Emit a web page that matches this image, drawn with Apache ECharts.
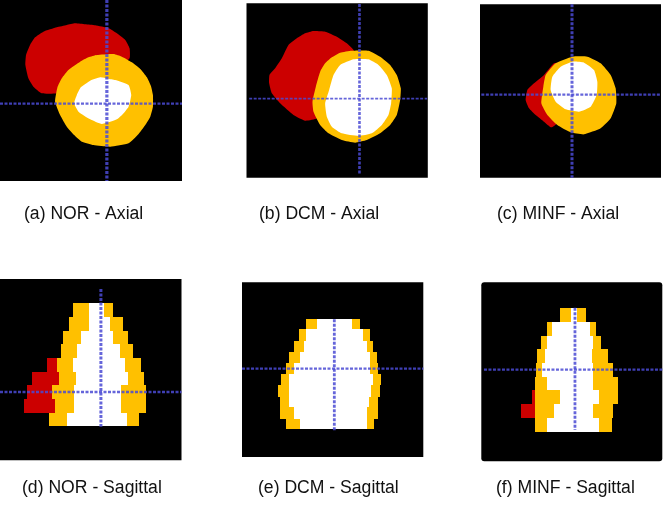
<!DOCTYPE html>
<html>
<head>
<meta charset="utf-8">
<style>html,body{margin:0;padding:0;background:#fff}#main{width:664px;height:505px}</style>
<script src="https://cdn.jsdelivr.net/npm/echarts@6/dist/echarts.min.js"></script>
</head>
<body>
<div id="main"></div>
<script>
const captions = ["(a) NOR - Axial", "(b) DCM - Axial", "(c) MINF - Axial", "(d) NOR - Sagittal", "(e) DCM - Sagittal", "(f) MINF - Sagittal"];

// axial contours
const redA = [[225,70],[255,73],[285,76],[325,85],[350,100],[375,120],[388,145],[388,175],[340,220],[250,250],[170,280],[125,280],[100,260],[85,235],[76,195],[78,165],[90,135],[105,112],[130,95],[170,82],[200,75]];
const yellowA = [[290,165],[340,162],[365,170],[395,187],[420,207],[440,232],[452,258],[458,285],[458,320],[450,350],[435,375],[415,402],[385,430],[330,440],[280,435],[245,425],[222,405],[200,380],[180,345],[165,305],[172,262],[185,235],[205,210],[240,185],[265,172]];
const whiteA = [[300,232],[322,236],[345,240],[385,255],[393,285],[385,320],[368,342],[350,358],[305,372],[270,358],[235,335],[222,310],[230,285],[242,262],[270,242]];

const redB = [[265,93],[300,95],[335,110],[365,130],[385,150],[400,200],[330,260],[275,355],[240,362],[205,345],[165,310],[140,280],[132,250],[133,225],[150,205],[170,175],[190,135],[215,115],[240,100]];
const yellowB = [[345,158],[380,152],[430,152],[465,170],[495,195],[515,225],[527,265],[525,300],[515,345],[495,375],[465,400],[425,420],[390,428],[350,420],[310,400],[285,375],[265,335],[262,305],[272,260],[285,215],[300,190],[320,172]];
const whiteB = [[385,178],[430,178],[460,195],[485,225],[500,265],[498,310],[490,345],[470,375],[440,400],[400,408],[350,400],[320,380],[305,350],[300,310],[312,270],[325,225],[345,195]];

const redC = [[330,190],[350,190],[400,280],[345,365],[322,382],[300,365],[275,345],[255,325],[245,300],[250,270],[270,250],[300,225]];
const yellowC = [[385,170],[430,170],[470,190],[500,225],[515,265],[517,310],[500,355],[470,385],[420,403],[380,397],[340,375],[310,345],[292,310],[298,260],[305,225],[335,190]];
const whiteC = [[385,185],[420,188],[450,210],[460,245],[458,285],[440,320],[405,335],[365,328],[335,305],[320,270],[325,230],[350,200]];

// sagittal slices: yTop, yBottom, xLeft, xRight
const redD = [[263,305,142,175],[305,345,97,180],[345,388,80,160],[388,428,72,165]];
const yellowD = [[98,140,220,338],[140,183,207,370],[183,223,188,384],[223,263,183,400],[263,305,170,423],[305,345,178,432],[345,388,155,437],[388,428,165,437],[428,467,148,418]];
const whiteD = [[98,140,267,311],[140,183,267,330],[183,223,243,338],[223,263,232,360],[263,305,220,375],[305,345,228,385],[345,388,222,362],[388,428,222,362],[428,467,200,380]];

const redE = [];
const yellowE = [[148,178,243,404],[178,213,221,435],[213,247,207,445],[247,280,191,457],[280,312,182,460],[312,345,168,467],[345,380,159,465],[380,412,164,460],[412,447,164,458],[447,477,182,448]];
const whiteE = [[148,178,275,381],[178,213,243,413],[213,247,238,425],[247,280,225,435],[280,312,207,435],[312,345,193,445],[345,380,193,437],[380,412,193,432],[412,447,207,427],[447,477,225,427]];

const redF = [[361,402,264,278],[402,443,232,273]];
const yellowF = [[113,155,348,425],[155,197,309,456],[197,238,291,470],[238,278,278,491],[278,320,275,508],[320,361,273,522],[361,402,273,522],[402,443,273,508],[443,485,273,504]];
const whiteF = [[113,155,380,398],[155,197,325,438],[197,238,309,447],[238,278,304,443],[278,320,295,447],[320,361,309,447],[361,402,348,465],[402,443,330,447],[443,485,309,465]];

// crosshairs: vertical x, y0, y1 / horizontal y, x0, x1
const crossV = [[320,0,543],[403,12,525],[384,13,533],[303,57,470],[328,148,482],[393,113,480]];
const crossH = [[311,0,545],[296,72,606],[284,112,651],[366,0,545],[296,51,595],[299,120,655]];

const masks = [
  { red: redA, yellow: yellowA, white: whiteA },
  { red: redB, yellow: yellowB, white: whiteB },
  { red: redC, yellow: yellowC, white: whiteC },
  { red: redD, yellow: yellowD, white: whiteD },
  { red: redE, yellow: yellowE, white: whiteE },
  { red: redF, yellow: yellowF, white: whiteF },
];

// panel frames in the page, and each scan's axis range
const panels = [
  { left: 0, top: 0, width: 182, height: 181, x: [0, 545], y: [0, 543], r: 0, lineV: 3.2, lineH: 2.4 },
  { left: 246.5, top: 3.3, width: 181.3, height: 174.4, x: [64, 608], y: [10, 533], r: 0, lineV: 2.6, lineH: 1.6 },
  { left: 480, top: 4.3, width: 181, height: 173.4, x: [108, 651], y: [13, 533], r: 0, lineV: 3, lineH: 2.4 },
  { left: 0, top: 279, width: 181.5, height: 181.3, x: [0, 545], y: [27, 571], r: 0, lineV: 3, lineH: 2.4 },
  { left: 242, top: 282.3, width: 181.3, height: 174.7, x: [51, 595], y: [37, 561], r: 0, lineV: 2.8, lineH: 2.2 },
  { left: 481.3, top: 282.3, width: 181, height: 179, x: [112, 655], y: [37, 574], r: 3, lineV: 2.8, lineH: 2.4 },
];
const captionPos = [[24, 214], [259, 214], [497, 214], [22, 488], [258, 488], [496, 488]];

const colors = { red: "#cc0000", yellow: "#ffc000", white: "#ffffff" };
const lineColor = "#4a4ad4";

const contourSeries = (data, color, i) => ({
  type: "custom",
  xAxisIndex: i,
  yAxisIndex: i,
  silent: true,
  data: data,
  encode: { x: 0, y: 1 },
  renderItem: (params, api) => {
    if (params.context.rendered) return;
    params.context.rendered = true;
    return {
      type: "polygon",
      shape: { points: data.map((p) => api.coord(p)), smooth: 0.15 },
      style: { fill: color },
    };
  },
});

const sliceSeries = (data, color, i) => ({
  type: "custom",
  xAxisIndex: i,
  yAxisIndex: i,
  silent: true,
  data: data,
  encode: { x: [2, 3], y: [0, 1] },
  renderItem: (params, api) => {
    const a = api.coord([api.value(2), api.value(0)]).map(Math.round);
    const b = api.coord([api.value(3), api.value(1)]).map(Math.round);
    return {
      type: "rect",
      shape: { x: a[0], y: a[1], width: b[0] - a[0], height: b[1] - a[1] },
      style: { fill: color },
    };
  },
});

const lineSeries = (data, width, i) => ({
  type: "line",
  xAxisIndex: i,
  yAxisIndex: i,
  silent: true,
  symbol: "none",
  data: data,
  lineStyle: { color: lineColor, width: width, type: [3, 1.5], opacity: 0.85 },
});

let series = [];
panels.forEach((p, i) => {
  // black background of the scan
  series.push({
    type: "custom",
    xAxisIndex: i,
    yAxisIndex: i,
    silent: true,
    data: [[p.x[0], p.y[0]]],
    renderItem: (params, api) => {
      return {
        type: "rect",
        shape: { x: p.left, y: p.top, width: p.width, height: p.height, r: p.r },
        style: { fill: "#000" },
      };
    },
  });
  const draw = i < 3 ? contourSeries : sliceSeries;
  ["red", "yellow", "white"].forEach((k) => {
    if (masks[i][k].length) series.push(draw(masks[i][k], colors[k], i));
  });
  const v = crossV[i];
  const h = crossH[i];
  series.push(lineSeries([[v[0], v[1]], [v[0], v[2]]], p.lineV, i));
  series.push(lineSeries([[h[1], h[0]], [h[2], h[0]]], p.lineH, i));
});

const myChart = echarts.init(document.getElementById("main"), null, { renderer: "canvas" });

let option = {
  animation: false,
  backgroundColor: "#fff",
  grid: panels.map((p) => ({ left: p.left, top: p.top, width: p.width, height: p.height })),
  xAxis: panels.map((p, i) => ({ type: "value", gridIndex: i, min: p.x[0], max: p.x[1], show: false })),
  yAxis: panels.map((p, i) => ({ type: "value", gridIndex: i, min: p.y[0], max: p.y[1], inverse: true, show: false })),
  title: captions.map((c, i) => ({
    text: c,
    left: captionPos[i][0],
    top: captionPos[i][1] - 9,
    textStyle: { fontFamily: "Liberation Sans", fontSize: 17.6, fontWeight: "normal", color: "#111" },
    padding: 0,
  })),
  series,
};

option && myChart.setOption(option);
</script>
</body>
</html>
